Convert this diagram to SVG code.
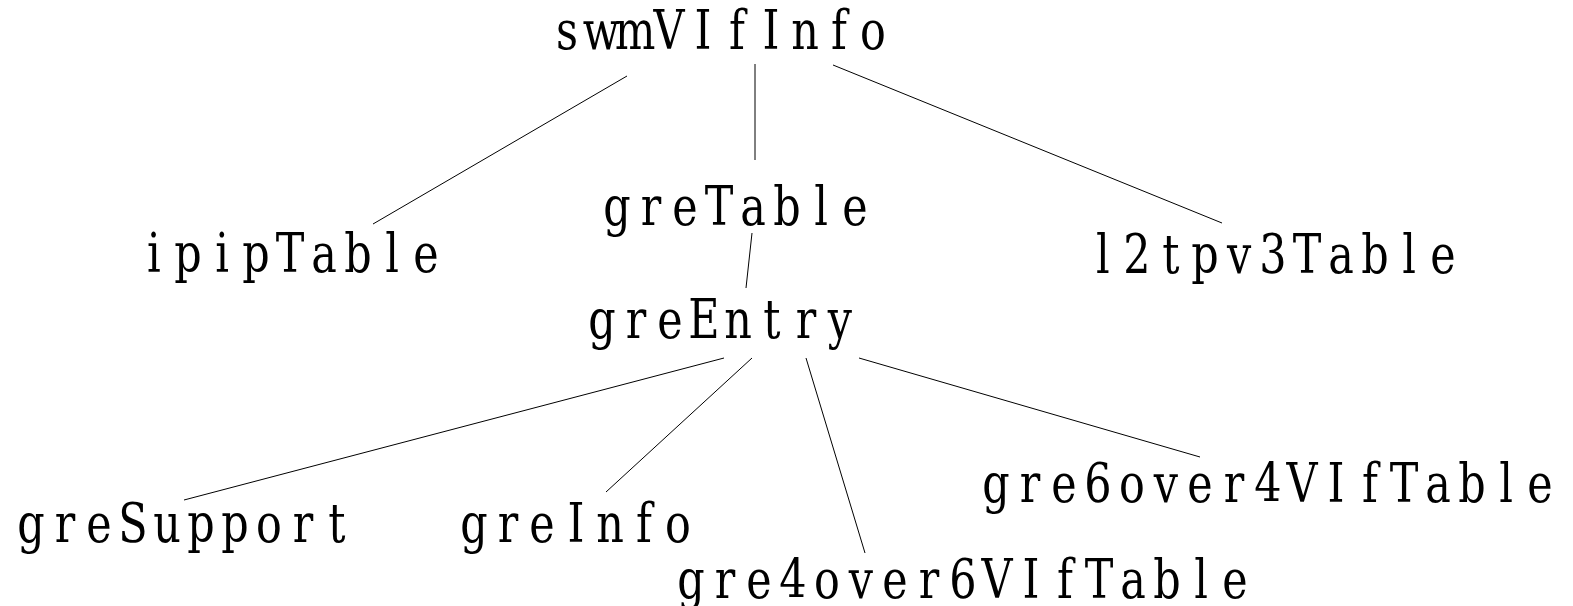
<svg xmlns="http://www.w3.org/2000/svg" width="1573" height="606" viewBox="0 0 1573 606">
  <style>
    .bg { fill: #ffffff; }
    .label { font-family: "DejaVu Serif", "Liberation Serif", serif; font-size: 55px; fill: #000000; text-anchor: middle; }
    .edge { stroke: #000000; stroke-width: 1; fill: none; }
  </style>
  <!-- every label is set on a fixed 34px character grid: glyphs are centred in
       their cells and the run is narrowed by scale(0.78,1), so each cell is 43.59 local units -->
  <rect class="bg" x="0" y="0" width="1573" height="606"/>

  <!-- tree edges -->
  <g id="connectors">
    <line class="edge" x1="627" y1="76" x2="373" y2="224"/>
    <line class="edge" x1="755" y1="64" x2="755" y2="160"/>
    <line class="edge" x1="833" y1="65" x2="1222" y2="223"/>
    <line class="edge" x1="752" y1="233" x2="746" y2="288"/>
    <line class="edge" x1="724" y1="358" x2="184" y2="500"/>
    <line class="edge" x1="752" y1="358" x2="606" y2="492"/>
    <line class="edge" x1="806" y1="358" x2="865" y2="553"/>
    <line class="edge" x1="859" y1="358" x2="1200" y2="457"/>
  </g>

  <!-- nodes -->
  <g id="swmVIfInfo">
    <text class="label" transform="translate(550,49) scale(0.78,1)" x="21.79 65.38 108.97 152.56 196.15 239.74 283.33 326.92 370.51 414.10" y="0">swmVIfInfo</text>
  </g>
  <g id="ipipTable">
    <text class="label" transform="translate(137,272) scale(0.78,1)" x="21.79 65.38 108.97 152.56 196.15 239.74 283.33 326.92 370.51" y="0">ipipTable</text>
  </g>
  <g id="greTable">
    <text class="label" transform="translate(600,225) scale(0.78,1)" x="21.79 65.38 108.97 152.56 196.15 239.74 283.33 326.92" y="0">greTable</text>
  </g>
  <g id="l2tpv3Table">
    <text class="label" transform="translate(1086,273) scale(0.78,1)" x="21.79 65.38 108.97 152.56 196.15 239.74 283.33 326.92 370.51 414.10 457.69" y="0">l2tpv3Table</text>
  </g>
  <g id="greEntry">
    <text class="label" transform="translate(585,338) scale(0.78,1)" x="21.79 65.38 108.97 152.56 196.15 239.74 283.33 326.92" y="0">greEntry</text>
  </g>
  <g id="greSupport">
    <text class="label" transform="translate(14,542) scale(0.78,1)" x="21.79 65.38 108.97 152.56 196.15 239.74 283.33 326.92 370.51 414.10" y="0">greSupport</text>
  </g>
  <g id="greInfo">
    <text class="label" transform="translate(457,542) scale(0.78,1)" x="21.79 65.38 108.97 152.56 196.15 239.74 283.33" y="0">greInfo</text>
  </g>
  <g id="gre4over6VIfTable">
    <text class="label" transform="translate(674,598) scale(0.78,1)" x="21.79 65.38 108.97 152.56 196.15 239.74 283.33 326.92 370.51 414.10 457.69 501.28 544.87 588.46 632.05 675.64 719.23" y="0">gre4over6VIfTable</text>
  </g>
  <g id="gre6over4VIfTable">
    <text class="label" transform="translate(979,502) scale(0.78,1)" x="21.79 65.38 108.97 152.56 196.15 239.74 283.33 326.92 370.51 414.10 457.69 501.28 544.87 588.46 632.05 675.64 719.23" y="0">gre6over4VIfTable</text>
  </g>
</svg>
